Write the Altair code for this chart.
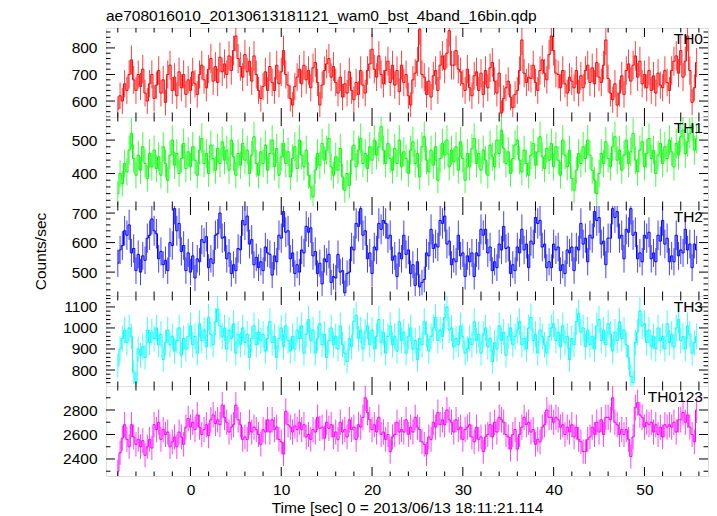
import altair as alt
import numpy as np
import pandas as pd

FONT = "Liberation Sans"
FS = 15.5

TITLE = "ae708016010_20130613181121_wam0_bst_4band_16bin.qdp"
XTITLE = "Time [sec] 0 = 2013/06/13 18:11:21.114"
YTITLE = "Counts/sec"

T_START = -8.0     # centre of first bin [s]
BIN_SEC = 0.25     # bin width [s]

TH0 = [570, 620, 600, 665, 640, 700, 755, 680, 640, 700, 655, 720, 630, 600, 665, 700,
       610, 660, 715, 630, 680, 595, 700, 735, 640, 690, 620, 710, 650, 700, 625, 680,
       640, 710, 665, 625, 700, 735, 680, 650, 720, 760, 675, 730, 670, 765, 710, 740,
       700, 770, 715, 790, 845, 760, 730, 690, 775, 710, 750, 675, 770, 700, 640, 610,
       655, 710, 640, 730, 670, 640, 735, 665, 710, 790, 700, 660, 610, 585, 655, 690,
       720, 665, 735, 680, 715, 650, 725, 745, 670, 585, 660, 715, 740, 760, 690, 730,
       670, 630, 690, 615, 665, 630, 710, 640, 605, 670, 625, 715, 660, 630, 715, 740,
       795, 720, 690, 770, 700, 665, 715, 750, 670, 735, 660, 715, 635, 735, 670, 700,
       620, 585, 680, 705, 750, 870, 700, 690, 625, 675, 615, 695, 715, 640, 735, 770,
       720, 780, 865, 735, 735, 790, 720, 710, 665, 640, 720, 650, 620, 695, 710, 640,
       705, 625, 715, 650, 725, 745, 675, 630, 705, 555, 610, 650, 675, 615, 575, 625,
       640, 715, 830, 705, 670, 690, 685, 735, 670, 640, 715, 755, 705, 680, 775, 845,
       790, 705, 700, 650, 715, 665, 630, 690, 675, 650, 715, 630, 695, 650, 715, 735,
       670, 725, 665, 745, 690, 670, 735, 830, 685, 630, 605, 665, 585, 630, 695, 625,
       715, 740, 675, 735, 770, 690, 750, 665, 700, 650, 715, 640, 695, 630, 705, 660,
       650, 715, 670, 640, 715, 750, 770, 705, 790, 690, 750, 845, 715, 595, 650, 745]

TH1 = [340, 400, 370, 430, 405, 470, 520, 445, 395, 455, 410, 480, 430, 385, 460, 420,
       470, 415, 450, 395, 480, 430, 380, 455, 500, 425, 460, 400, 445, 490, 415, 465,
       420, 480, 440, 395, 470, 505, 430, 460, 400, 485, 445, 410, 475, 430, 495, 440,
       470, 410, 500, 450, 395, 460, 425, 490, 440, 470, 400, 455, 510, 430, 395, 465,
       430, 485, 410, 460, 500, 420, 475, 395, 450, 490, 430, 465, 390, 445, 480, 415,
       500, 455, 420, 470, 395, 360, 330, 410, 460, 425, 490, 440, 470, 505, 420, 395,
       450, 410, 475, 390, 350, 400, 365, 440, 485, 420, 470, 505, 430, 460, 415, 480,
       440, 500, 455, 480, 540, 470, 430, 490, 445, 410, 475, 430, 500, 420, 465, 445,
       400, 470, 495, 430, 460, 390, 480, 510, 440, 405, 470, 425, 480, 380, 445, 490,
       455, 500, 420, 470, 435, 480, 410, 495, 445, 380, 460, 420, 475, 505, 430, 460,
       410, 470, 440, 395, 485, 450, 420, 500, 460, 530, 475, 430, 465, 400, 445, 485,
       500, 440, 405, 470, 430, 395, 455, 490, 425, 465, 510, 450, 415, 475, 440, 490,
       420, 480, 440, 395, 500, 455, 420, 470, 385, 350, 410, 460, 430, 480, 445, 500,
       455, 410, 380, 340, 400, 460, 430, 495, 445, 420, 480, 510, 440, 470, 410, 455,
       500, 430, 465, 520, 440, 405, 470, 495, 420, 460, 505, 445, 470, 400, 455, 490,
       430, 480, 445, 500, 465, 420, 490, 455, 510, 530, 460, 495, 520, 545, 470, 505]

TH2 = [530, 575, 590, 640, 625, 660, 565, 580, 505, 560, 500, 555, 540, 615, 625, 680,
       640, 630, 545, 570, 525, 540, 505, 600, 590, 715, 640, 665, 570, 590, 505, 565,
       500, 555, 480, 545, 535, 610, 600, 620, 515, 545, 530, 625, 630, 700, 615, 620,
       545, 565, 495, 525, 505, 580, 575, 675, 660, 690, 595, 610, 525, 550, 515, 535,
       505, 585, 565, 560, 490, 555, 535, 625, 615, 705, 635, 640, 545, 565, 495, 525,
       500, 575, 565, 655, 635, 650, 555, 570, 495, 530, 460, 545, 535, 560, 465, 485,
       480, 560, 500, 505, 430, 495, 500, 585, 575, 665, 655, 715, 625, 640, 545, 565,
       495, 585, 575, 665, 645, 675, 665, 615, 625, 540, 555, 485, 565, 545, 625, 560,
       575, 495, 525, 455, 535, 450, 465, 475, 565, 555, 645, 580, 595, 585, 675, 665,
       690, 595, 605, 525, 545, 535, 625, 555, 565, 485, 555, 535, 565, 485, 565, 555,
       645, 625, 645, 565, 585, 505, 535, 515, 595, 575, 655, 580, 585, 495, 525, 505,
       585, 565, 645, 575, 595, 515, 605, 595, 685, 665, 675, 585, 595, 515, 535, 515,
       595, 575, 585, 505, 525, 495, 575, 565, 585, 505, 585, 575, 665, 595, 615, 535,
       625, 615, 705, 675, 685, 595, 605, 525, 615, 615, 715, 685, 705, 615, 625, 545,
       645, 635, 715, 625, 635, 545, 565, 535, 625, 615, 635, 545, 565, 535, 625, 605,
       675, 595, 615, 535, 555, 535, 625, 555, 575, 565, 645, 575, 595, 515, 595, 575]

TH3 = [820, 900, 950, 990, 930, 1000, 960, 790, 740, 900, 870, 910, 860, 990, 930, 980,
       950, 1000, 920, 970, 850, 930, 990, 920, 960, 890, 940, 1000, 870, 950, 900, 960,
       1010, 920, 960, 880, 1020, 940, 990, 910, 1050, 970, 920, 1030, 1090, 1010, 960, 1000,
       900, 990, 950, 1020, 880, 970, 920, 1000, 930, 970, 860, 950, 1010, 920, 980, 940,
       970, 890, 950, 1030, 930, 960, 860, 950, 1000, 910, 1010, 940, 890, 960, 900, 990,
       950, 1010, 880, 970, 1040, 940, 990, 880, 950, 1020, 920, 970, 860, 940, 1000, 920,
       960, 900, 1010, 920, 880, 840, 950, 910, 1030, 1060, 950, 990, 900, 980, 1010, 920,
       990, 900, 960, 1040, 930, 980, 880, 960, 1010, 920, 960, 890, 1030, 940, 980, 880,
       960, 1000, 900, 940, 850, 950, 920, 1030, 970, 890, 960, 1000, 1050, 940, 990, 960,
       1050, 1100, 990, 1000, 910, 950, 920, 1010, 960, 880, 900, 950, 920, 1030, 940, 970,
       880, 970, 1000, 910, 950, 840, 930, 900, 1010, 940, 980, 870, 960, 1000, 920, 960,
       990, 1030, 920, 950, 900, 1000, 1050, 940, 970, 880, 990, 960, 920, 880, 960, 1000,
       1020, 940, 980, 910, 1010, 930, 960, 850, 950, 920, 1030, 1070, 980, 1000, 910, 990,
       920, 960, 900, 1010, 1040, 940, 990, 920, 1020, 970, 890, 980, 940, 1030, 950, 990,
       920, 860, 770, 740, 930, 980, 1080, 1010, 1020, 930, 990, 910, 960, 900, 1000, 940,
       960, 900, 1020, 930, 970, 910, 1000, 1040, 940, 960, 900, 1010, 970, 880, 930, 960]

TH0123 = [2300, 2450, 2570, 2680, 2560, 2500, 2680, 2580, 2520, 2560, 2500, 2550, 2430, 2500, 2560, 2490,
          2680, 2640, 2700, 2560, 2640, 2600, 2620, 2500, 2540, 2580, 2500, 2620, 2580, 2520, 2660, 2730,
          2660, 2700, 2640, 2760, 2660, 2600, 2640, 2680, 2590, 2720, 2760, 2690, 2720, 2680, 2840, 2740,
          2700, 2620, 2660, 2680, 2840, 2720, 2680, 2560, 2580, 2560, 2700, 2620, 2660, 2640, 2600, 2520,
          2640, 2620, 2720, 2620, 2720, 2640, 2660, 2560, 2540, 2440, 2790, 2680, 2660, 2620, 2670, 2640,
          2700, 2640, 2680, 2580, 2600, 2560, 2640, 2620, 2740, 2650, 2660, 2570, 2700, 2650, 2680, 2580,
          2620, 2560, 2700, 2620, 2640, 2580, 2720, 2640, 2660, 2560, 2680, 2660, 2740, 2900, 2780, 2720,
          2640, 2680, 2620, 2740, 2600, 2620, 2560, 2600, 2460, 2580, 2600, 2700, 2620, 2640, 2620, 2720,
          2600, 2660, 2620, 2740, 2660, 2640, 2540, 2520, 2440, 2580, 2560, 2700, 2660, 2780, 2680, 2720,
          2680, 2800, 2720, 2700, 2620, 2720, 2640, 2660, 2560, 2640, 2660, 2680, 2580, 2540, 2660, 2560,
          2580, 2460, 2580, 2600, 2680, 2580, 2700, 2620, 2740, 2720, 2700, 2600, 2580, 2480, 2600, 2640,
          2480, 2600, 2660, 2740, 2680, 2700, 2620, 2640, 2520, 2560, 2540, 2660, 2680, 2800, 2740, 2740,
          2700, 2740, 2720, 2660, 2680, 2600, 2660, 2620, 2680, 2580, 2660, 2560, 2540, 2460, 2460, 2560,
          2580, 2660, 2600, 2700, 2620, 2720, 2600, 2740, 2740, 2720, 2900, 2700, 2680, 2600, 2640, 2600,
          2640, 2560, 2420, 2580, 2820, 2860, 2760, 2740, 2660, 2700, 2680, 2700, 2620, 2680, 2600, 2660,
          2580, 2680, 2660, 2680, 2660, 2700, 2620, 2720, 2720, 2780, 2700, 2760, 2660, 2600, 2540, 2800]

NAMES = ["TH0", "TH1", "TH2", "TH3", "TH0123"]
SERIES = [TH0, TH1, TH2, TH3, TH0123]
COLORS = ["#ff0000", "#00ff00", "#0000ff", "#00ffff", "#ff00ff"]
YDOMAINS = [[540, 875], [303, 569], [419, 724], [724, 1152], [2261, 2996]]
YMAJOR = [[600, 700, 800], [400, 500], [500, 600, 700], [800, 900, 1000, 1100], [2400, 2600, 2800]]
YMINOR_STEP = [20, 20, 20, 20, 100]
HEIGHTS = [89, 89, 90, 90, 90]

XDOMAIN = [-9.3, 57.0]
XMAJOR = [0, 10, 20, 30, 40, 50]
XMINOR_STEP = 2

W = 602
MAJ = 9
MIN = 4.5

xscale = alt.Scale(domain=XDOMAIN, nice=False, zero=False)
xmin_ticks = [v for v in range(-8, 57, XMINOR_STEP) if v not in XMAJOR]


def panel(i):
    name, vals, color = NAMES[i], SERIES[i], COLORS[i]
    h = HEIGHTS[i]
    ydom = YDOMAINS[i]
    yscale = alt.Scale(domain=ydom, nice=False, zero=False)
    last = i == len(NAMES) - 1
    times = T_START + BIN_SEC * np.arange(len(vals))
    rate = np.array(vals, dtype=float)
    err = np.sqrt(rate / BIN_SEC)  # Poisson error of a rate in 0.25 s bins
    df = pd.DataFrame({"t": times, "rate": rate, "lo": rate - err, "hi": rate + err})

    if last:
        xaxis = alt.Axis(values=XMAJOR, format="d", ticks=False, tickSize=0, domain=False, grid=False,
                         labelFont=FONT, labelFontSize=FS, labelColor="black", labelPadding=6,
                         title=XTITLE, titleFont=FONT, titleFontSize=FS, titleFontWeight="normal",
                         titleColor="black", titlePadding=3)
    else:
        xaxis = None
    yaxis = alt.Axis(values=YMAJOR[i], format="d", ticks=False, tickSize=0, domain=False, grid=False,
                     labelFont=FONT, labelFontSize=FS, labelColor="black", labelPadding=9,
                     title=YTITLE if i == 2 else "", titleFont=FONT, titleFontSize=FS,
                     titleFontWeight="normal", titleColor="black", titlePadding=23)

    X = lambda f: alt.X(f, type="quantitative", scale=xscale, axis=xaxis)
    Y = lambda f: alt.Y(f, type="quantitative", scale=yscale, axis=yaxis)

    errs = alt.Chart(df).mark_rule(color=color, strokeWidth=1, opacity=0.75, clip=True).encode(
        x=X("t"), y=Y("lo"), y2="hi")
    line = alt.Chart(df).mark_line(color=color, strokeWidth=1, interpolate="step", clip=True).encode(
        x=X("t"), y=Y("rate"))

    xmaj = pd.DataFrame({"v": XMAJOR})
    xmin = pd.DataFrame({"v": xmin_ticks})
    lo, hi = ydom
    step = YMINOR_STEP[i]
    ymaj_vals = YMAJOR[i]
    ymin_vals = [v for v in range(int(np.ceil(lo / step) * step), int(hi) + 1, step) if v not in ymaj_vals]
    ymaj = pd.DataFrame({"v": ymaj_vals})
    ymin = pd.DataFrame({"v": ymin_vals})

    tk = dict(color="black", strokeWidth=1)
    layers = [errs, line]
    for d, L in ((xmaj, MAJ), (xmin, MIN)):
        layers.append(alt.Chart(d).mark_rule(**tk).encode(x=X("v"), y=alt.value(0), y2=alt.value(L)))
        layers.append(alt.Chart(d).mark_rule(**tk).encode(x=X("v"), y=alt.value(h), y2=alt.value(h - L)))
    for d, L in ((ymaj, MAJ), (ymin, MIN)):
        layers.append(alt.Chart(d).mark_rule(**tk).encode(y=Y("v"), x=alt.value(0), x2=alt.value(L)))
        layers.append(alt.Chart(d).mark_rule(**tk).encode(y=Y("v"), x=alt.value(W), x2=alt.value(W - L)))
    label = alt.Chart(pd.DataFrame({"n": [name]})).mark_text(
        align="right", baseline="alphabetic", font=FONT, fontSize=FS, color="black").encode(
        text="n:N", x=alt.value(W - 5), y=alt.value(15.5))
    layers.append(label)

    props = dict(width=W, height=h)
    if i == 0:
        props["title"] = alt.TitleParams(TITLE, anchor="start", frame="group", font=FONT, fontSize=FS,
                                         fontWeight="normal", color="black", offset=3)
    return alt.layer(*layers).properties(**props)


chart = alt.vconcat(*[panel(i) for i in range(5)], spacing=0, bounds="flush").properties(
    padding={"left": 24, "top": 0, "right": 0, "bottom": 0}
).configure_view(stroke="black", strokeWidth=1).configure(background="white")

chart.save("out.html", embed_options={"renderer": "svg", "actions": False})
